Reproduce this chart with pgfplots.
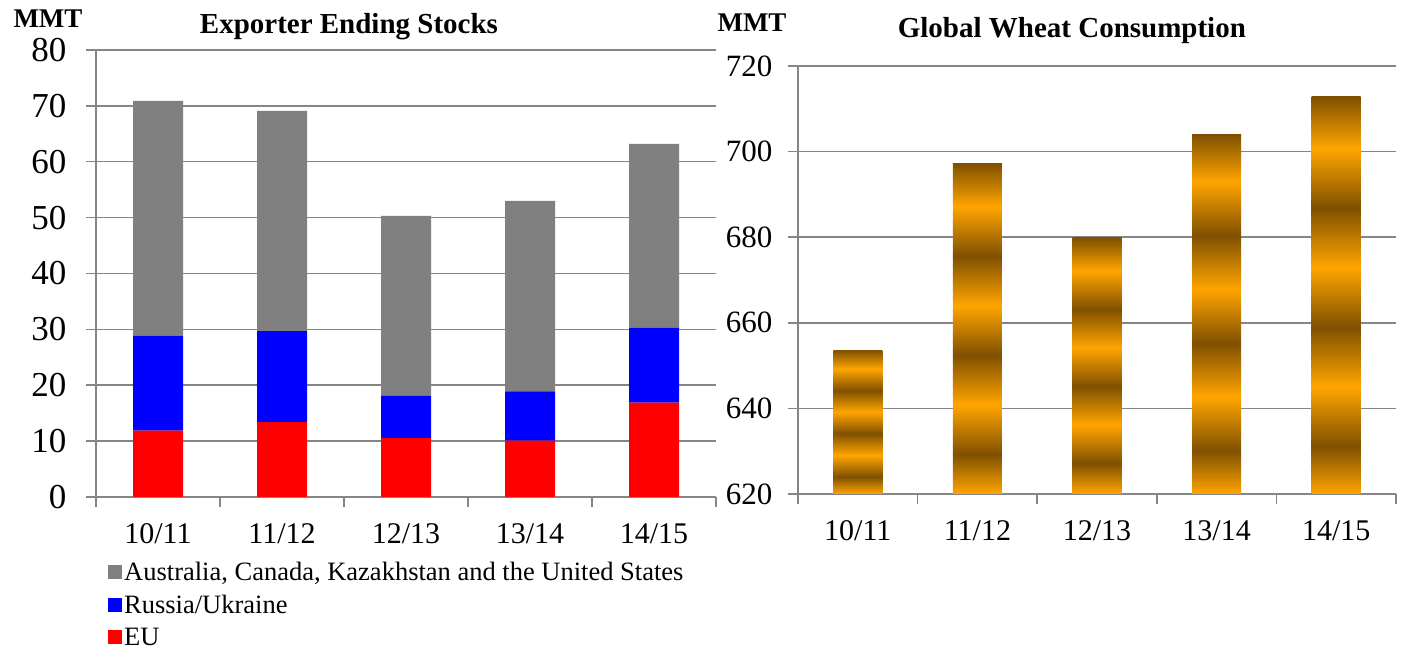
\documentclass[border=0pt]{standalone}
\usepackage{pgfplots}
\pgfplotsset{compat=1.18}
\usepackage{fontspec}
\setmainfont{Liberation Serif}
\definecolor{gridgray}{RGB}{134,134,134}
\definecolor{barGray}{RGB}{128,128,128}
\definecolor{wDk}{RGB}{128,80,0}
\definecolor{wOr}{RGB}{255,165,0}
\pgfdeclareverticalshading{wheat}{100bp}{color(0bp)=(wOr); color(25bp)=(wOr); color(31bp)=(wDk); color(38.5bp)=(wOr); color(46bp)=(wDk); color(53.5bp)=(wOr); color(61bp)=(wDk); color(68.5bp)=(wOr); color(75bp)=(wDk); color(100bp)=(wDk)}
\pgfplotsset{
  excel/.style={
    scale only axis,
    axis lines*=left,
    axis line style={draw=gridgray, line width=1.5pt},
    tick style={draw=gridgray, line width=1.5pt},
    tick align=outside,
    major tick length=10pt,
    ymajorgrids,
    grid style={draw=gridgray, line width=1.5pt},
    xmin=-0.5, xmax=4.5,
    xtick={-0.5,0.5,1.5,2.5,3.5,4.5},
    x tick label as interval,
    xticklabels={10/11,11/12,12/13,13/14,14/15},
    /pgf/number format/assume math mode=true,
    xticklabel style={font=\fontsize{30}{30}\selectfont, yshift=-13pt},
    clip=false,
  }
}
\begin{document}
\begin{tikzpicture}
\useasboundingbox (0,0) rectangle (1401pt,652pt);
\begin{axis}[excel, at={(96pt,155pt)}, anchor=south west, width=620pt, height=447pt,
  ymin=0, ymax=80, ytick={0,10,...,80},
  yticklabel style={font=\fontsize{35}{35}\selectfont, xshift=-16pt},
  ybar stacked, bar width=50pt,
  title={Exporter Ending Stocks},
  title style={font=\bfseries\fontsize{29}{29}\selectfont, at={(0.408,1)}, anchor=center, yshift=17pt},
  ylabel={MMT},
  ylabel style={rotate=-90, font=\bfseries\fontsize{27}{27}\selectfont, at={(0,1)}, anchor=center, xshift=-48pt, yshift=31pt},
  legend cell align=left,
  reverse legend,
  legend image code/.code={\fill[#1] (-3pt,-7pt) rectangle (11pt,7pt);},
  legend style={at={(0,0)}, anchor=north west, xshift=12pt, yshift=-63pt, draw=none, fill=none,
    font=\fontsize{26.5}{26.5}\selectfont, row sep=9pt, inner sep=0pt},
]
\addplot[fill=red, draw=none] coordinates {(0,11.9) (1,13.4) (2,10.6) (3,10.1) (4,16.9)};
\addplot[fill=blue, draw=none] coordinates {(0,17.0) (1,16.3) (2,7.5) (3,8.8) (4,13.4)};
\addplot[fill=barGray, draw=none] coordinates {(0,42.0) (1,39.4) (2,32.2) (3,34.1) (4,32.9)};
\legend{EU, Russia/Ukraine, {Australia, Canada, Kazakhstan and the United States}}
\end{axis}
\begin{axis}[excel, at={(798pt,158pt)}, anchor=south west, width=598pt, height=428pt,
  y coord trafo/.code={\pgfmathparse{#1-620}},
  y coord inv trafo/.code={\pgfmathparse{#1+620}},
  ymin=620, ymax=720, ytick={620,640,660,680,700,720},
  yticklabels={620,640,660,680,700,720},
  yticklabel style={font=\fontsize{31}{31}\selectfont, xshift=-12pt},
  title={Global Wheat Consumption},
  title style={font=\bfseries\fontsize{29}{29}\selectfont, at={(0.458,1)}, anchor=center, yshift=29pt},
  ylabel={MMT},
  ylabel style={rotate=-90, font=\bfseries\fontsize{27}{27}\selectfont, at={(0,1)}, anchor=center, xshift=-46pt, yshift=43pt},
]
\addplot[ybar, bar width=49pt, bar shift=0pt, draw=none, shading=wheat] coordinates {(0,653.6)};
\addplot[ybar, bar width=49pt, bar shift=0pt, draw=none, shading=wheat] coordinates {(1,697.2)};
\addplot[ybar, bar width=49pt, bar shift=0pt, draw=none, shading=wheat] coordinates {(2,679.9)};
\addplot[ybar, bar width=49pt, bar shift=0pt, draw=none, shading=wheat] coordinates {(3,703.9)};
\addplot[ybar, bar width=49pt, bar shift=0pt, draw=none, shading=wheat] coordinates {(4,712.8)};
\end{axis}
\end{tikzpicture}
\end{document}
